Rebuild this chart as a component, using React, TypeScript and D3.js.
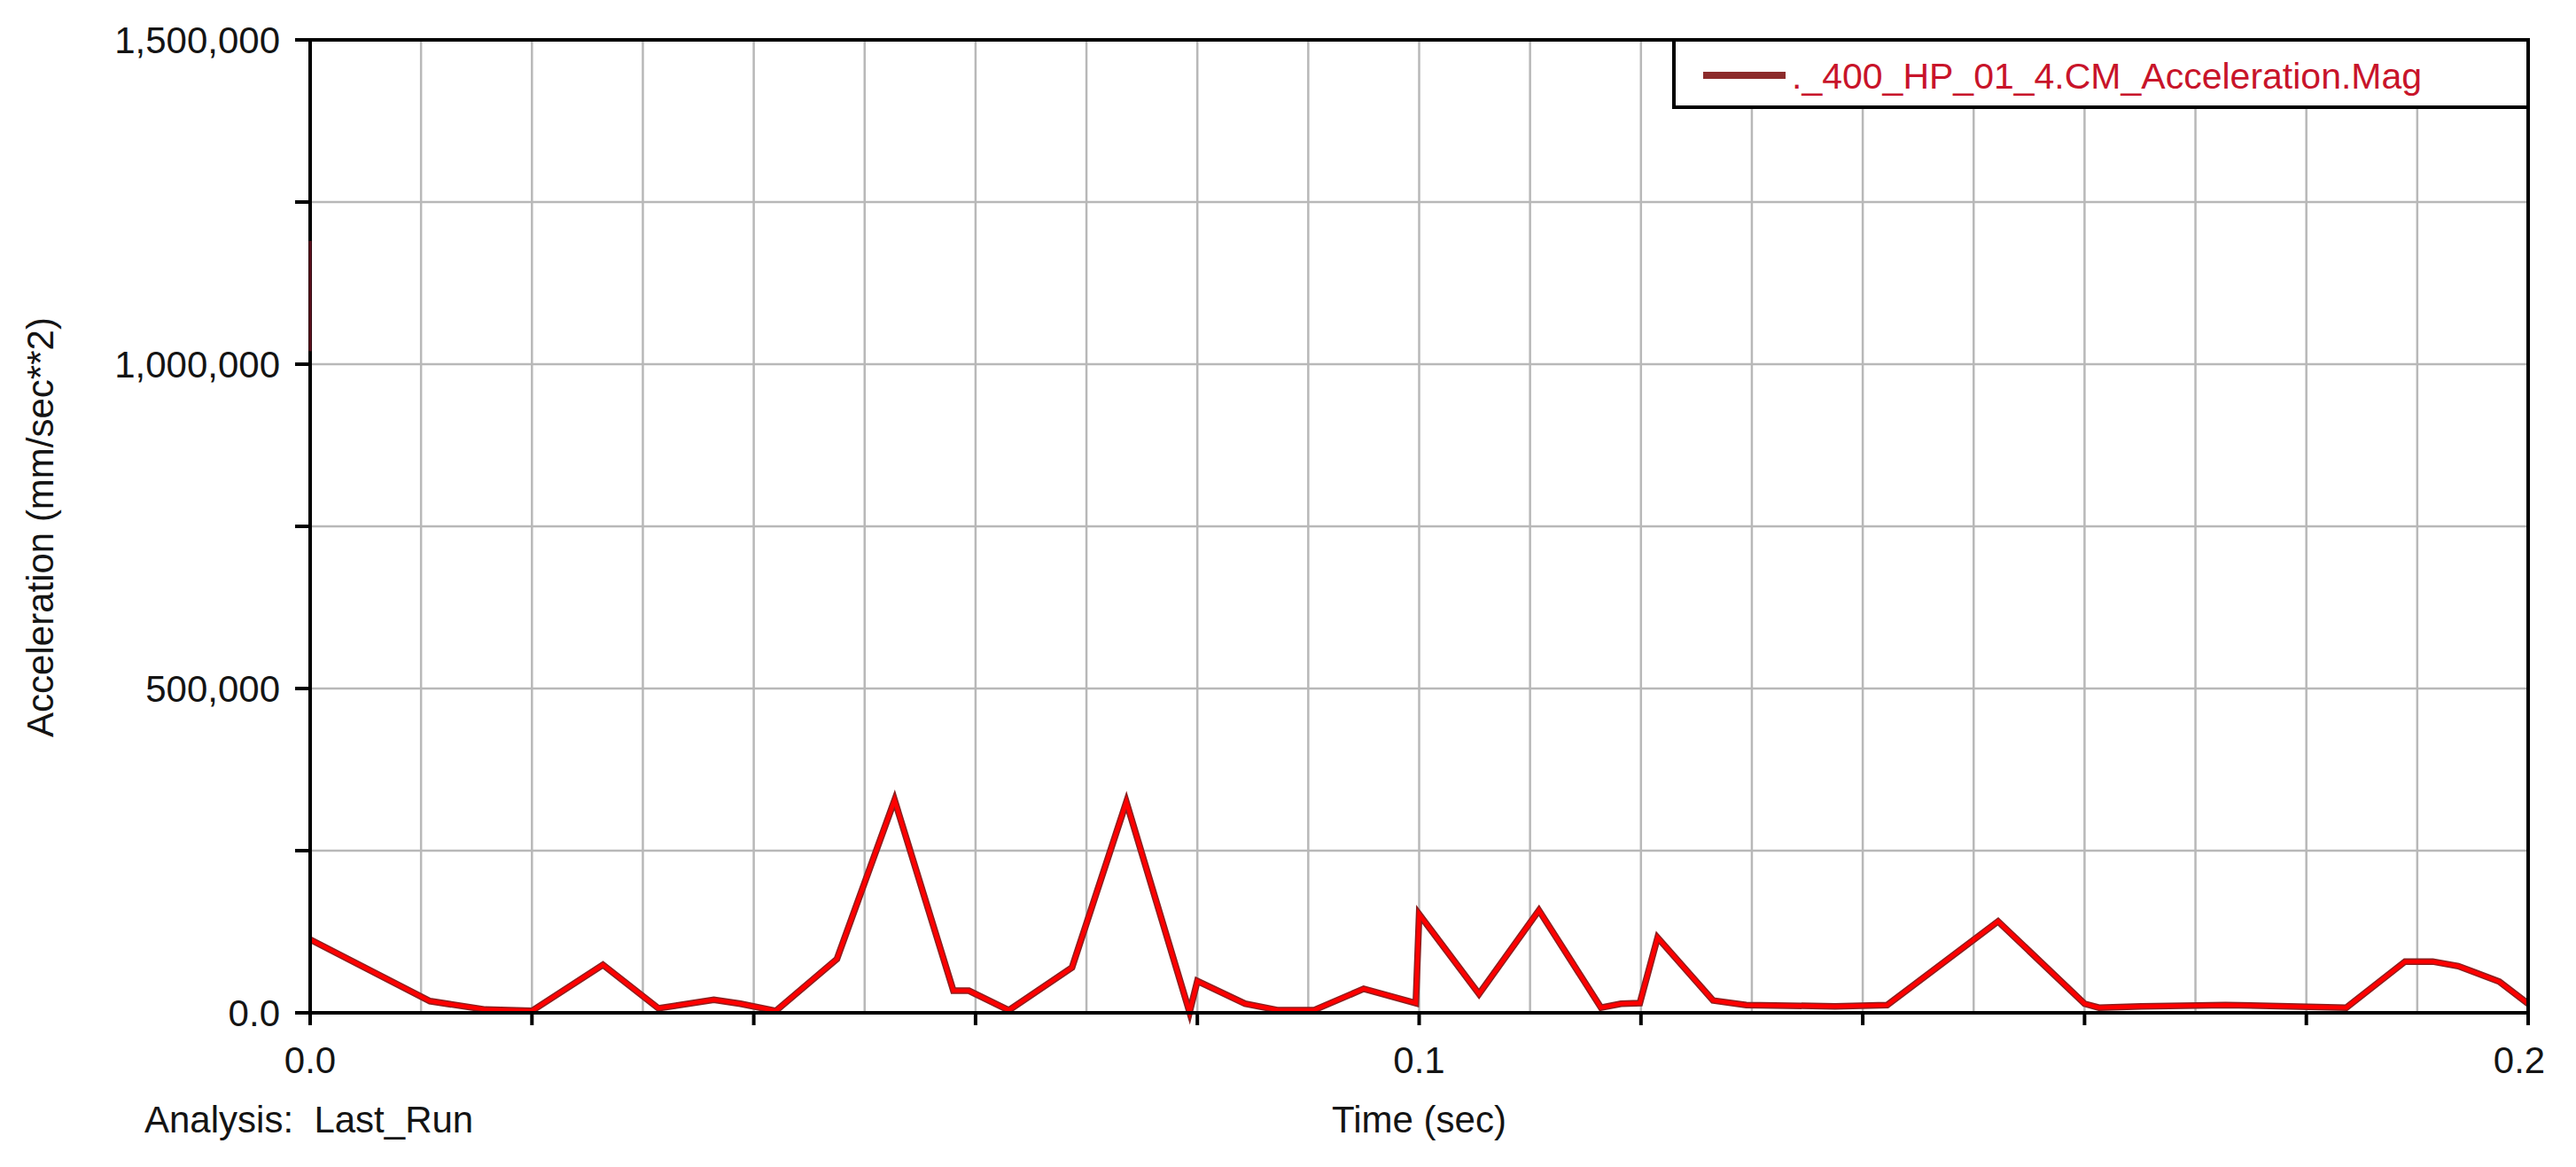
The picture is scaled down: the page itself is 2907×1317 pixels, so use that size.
import React from "react";
import * as d3 from "d3";

// ---- data (time in sec, acceleration magnitude in mm/sec**2) ----
const timeSec: number[] = [
  0, 0.0108, 0.0158, 0.02, 0.0264, 0.0314, 0.0364, 0.0388, 0.042, 0.0475,
  0.0527, 0.058, 0.0594, 0.063, 0.0687, 0.0736, 0.0793, 0.08, 0.0843, 0.0873,
  0.0905, 0.095, 0.0997, 0.1, 0.1054, 0.1108, 0.1164, 0.1182, 0.1199, 0.1215,
  0.1265, 0.1295, 0.1375, 0.1422, 0.1522, 0.16, 0.1613, 0.1651, 0.1727, 0.1836,
  0.1889, 0.1914, 0.1937, 0.1974, 0.2,
];
const accelMag: number[] = [
  113000, 18000, 5000, 3000, 74000, 7000, 20000, 14000, 3000, 83000,
  328000, 34000, 34000, 4000, 70000, 325000, 1000, 49000, 14000, 4000,
  4000, 37000, 15000, 152000, 29000, 158000, 8000, 14000, 15000, 116000,
  19000, 12000, 10000, 12000, 141000, 14000, 8000, 10000, 12000, 8000,
  79000, 79000, 72000, 48000, 14000,
];
// initial transient at t = 0
const spikeTime: number[] = [0, 0];
const spikeValue: number[] = [1190000, 1020000];

const xGrid: number[] = d3.range(0, 0.2001, 0.01);
const xTicks: number[] = d3.range(0, 0.2001, 0.02);
const xLabels: number[] = [0, 0.1, 0.2];
const xLabelText: string[] = ["0.0", "0.1", "0.2"];
const yGrid: number[] = d3.range(0, 1500001, 250000);
const yLabels: number[] = [0, 500000, 1000000, 1500000];
const yLabelText: string[] = ["0.0", "500,000", "1,000,000", "1,500,000"];

const seriesName = "._400_HP_01_4.CM_Acceleration.Mag";
const xTitle = "Time (sec)";
const yTitle = "Acceleration (mm/sec**2)";
const analysisText = "Analysis:  Last_Run";

const W = 2907;
const H = 1317;
const L = 350, R = 2853, T = 45, B = 1143;
const FONT = "'Liberation Sans', Arial, sans-serif";
const TEXT = "#141414";

export default function App() {
  const x = d3.scaleLinear().domain([0, 0.2]).range([L, R]);
  const y = d3.scaleLinear().domain([0, 1500000]).range([B, T]);
  const pts: [number, number][] = timeSec.map((t, i) => [t, accelMag[i]]);
  const spike: [number, number][] = spikeTime.map((t, i) => [t, spikeValue[i]]);
  const line = d3
    .line<[number, number]>()
    .x((d) => x(d[0]))
    .y((d) => y(d[1]));
  const path = line(pts) || "";
  const spikePath = line(spike) || "";

  return (
    <svg
      width={W}
      height={H}
      style={{ position: "absolute", left: 0, top: 0, background: "#fff" }}
      fontFamily={FONT}
    >
      <rect x={0} y={0} width={W} height={H} fill="#fff" />
      {/* grid */}
      {xGrid.map((t, i) => (
        <line key={"gx" + i} x1={x(t)} x2={x(t)} y1={T} y2={B} stroke="#b8b8b8" strokeWidth={2.5} />
      ))}
      {yGrid.map((v, i) => (
        <line key={"gy" + i} x1={L} x2={R} y1={y(v)} y2={y(v)} stroke="#b8b8b8" strokeWidth={2.5} />
      ))}

      {/* series */}
      <path d={path} fill="none" stroke="#8b1f1f" strokeWidth={7.5} strokeLinejoin="miter" />
      <path d={path} fill="none" stroke="#ff0000" strokeWidth={4.5} strokeLinejoin="miter" />

      {/* axes / frame */}
      <line x1={L} x2={L} y1={T} y2={B} stroke="#000" strokeWidth={4} />
      <line x1={L - 17} x2={R} y1={B} y2={B} stroke="#000" strokeWidth={4} />
      <line x1={L - 17} x2={R} y1={T} y2={T} stroke="#000" strokeWidth={4} />
      <line x1={R} x2={R} y1={T} y2={B + 14} stroke="#000" strokeWidth={4} />
      <path d={spikePath} fill="none" stroke="#5a0f1c" strokeWidth={3} />
      {yGrid.map((v, i) => (
        <line key={"ty" + i} x1={L - 17} x2={L} y1={y(v)} y2={y(v)} stroke="#000" strokeWidth={4} />
      ))}
      {xTicks.map((t, i) => (
        <line key={"tx" + i} x1={x(t)} x2={x(t)} y1={B} y2={B + 14} stroke="#000" strokeWidth={4} />
      ))}

      {/* tick labels */}
      {yLabels.map((v, i) => (
        <text
          key={"ly" + i}
          x={316}
          y={y(v) + 15}
          textAnchor="end"
          fontSize={42}
          fill={TEXT}
        >
          {yLabelText[i]}
        </text>
      ))}
      {xLabels.map((t, i) => (
        <text
          key={"lx" + i}
          x={x(t) + (i === xLabels.length - 1 ? -10 : 0)}
          y={1211}
          textAnchor="middle"
          fontSize={42}
          fill={TEXT}
        >
          {xLabelText[i]}
        </text>
      ))}

      {/* titles */}
      <text x={x(0.1)} y={1278} textAnchor="middle" fontSize={42} fill={TEXT}>
        {xTitle}
      </text>
      <text x={163} y={1278} fontSize={42} fill={TEXT} style={{ whiteSpace: "pre" }}>
        {analysisText}
      </text>
      <text
        transform={`translate(60, 595) rotate(-90)`}
        textAnchor="middle"
        fontSize={42}
        fill={TEXT}
      >
        {yTitle}
      </text>

      {/* legend */}
      <rect x={1889} y={T} width={R - 1889} height={76} fill="#fff" stroke="#000" strokeWidth={4} />
      <line x1={1922} x2={2015} y1={85} y2={85} stroke="#8c2b2b" strokeWidth={8} />
      <text x={2022} y={100} fontSize={41} fill="#c8142a">
        {seriesName}
      </text>
    </svg>
  );
}
